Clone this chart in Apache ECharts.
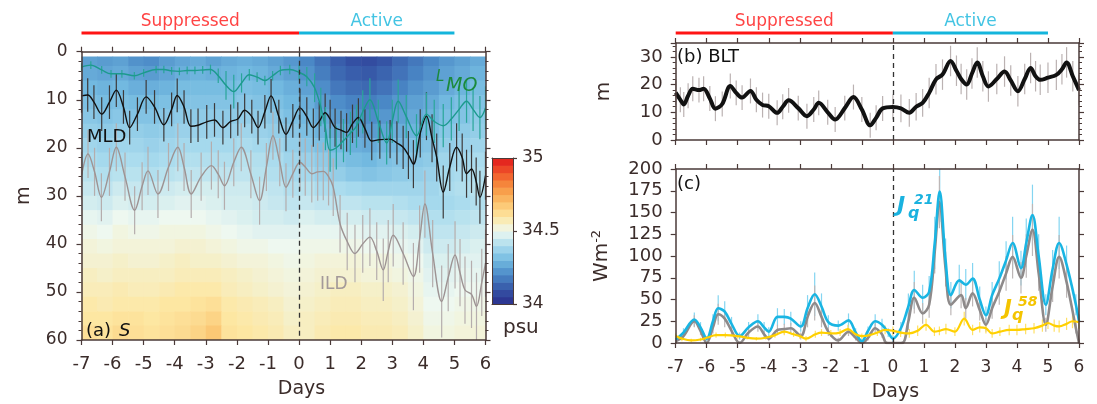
<!DOCTYPE html>
<html><head><meta charset="utf-8">
<script src="https://cdn.jsdelivr.net/npm/echarts@6/dist/echarts.min.js"></script>
<style>html,body{margin:0;padding:0;background:#fff}#c{width:1097px;height:404px}</style>
</head><body><div id="c"></div>
<script>
// ---------------- DATA ----------------
const periodNames = ['Suppressed', 'Active'];
const periodStart = [-7, 0];
const periodEnd = [0, 5];

const timeEdges = [-7,-6.5,-6,-5.5,-5,-4.5,-4,-3.5,-3,-2.5,-2,-1.5,-1,-0.5,0,0.5,1,1.5,2,2.5,3,3.5,4,4.5,5,5.5,6];
const depthEdges = [1,3,6,9,12,15,18,21,24,27,30,33,36,39,42,45,48,51,54,57,60];
// salinity (psu), rows = depth bands (top->bottom), columns = half-day bins
const salinity = [
 [34.25,34.24,34.25,34.22,34.21,34.24,34.26,34.27,34.25,34.27,34.28,34.27,34.25,34.23, 34.20,34.16,34.12,34.09,34.08,34.10,34.14,34.17,34.20,34.23,34.25,34.27],
 [34.27,34.26,34.27,34.25,34.24,34.26,34.28,34.29,34.28,34.29,34.30,34.29,34.27,34.25, 34.22,34.18,34.14,34.12,34.11,34.13,34.16,34.19,34.22,34.25,34.27,34.29],
 [34.30,34.29,34.30,34.28,34.28,34.29,34.31,34.31,34.31,34.31,34.32,34.31,34.30,34.28, 34.25,34.21,34.17,34.15,34.14,34.16,34.19,34.22,34.24,34.27,34.29,34.31],
 [34.32,34.31,34.32,34.31,34.31,34.32,34.33,34.33,34.33,34.33,34.34,34.33,34.32,34.30, 34.28,34.24,34.21,34.19,34.18,34.20,34.23,34.25,34.27,34.30,34.32,34.33],
 [34.34,34.33,34.34,34.33,34.33,34.34,34.35,34.35,34.35,34.35,34.36,34.35,34.34,34.32, 34.30,34.27,34.24,34.22,34.21,34.23,34.25,34.27,34.29,34.32,34.33,34.35],
 [34.36,34.35,34.36,34.36,34.35,34.36,34.37,34.37,34.37,34.37,34.38,34.37,34.36,34.34, 34.32,34.29,34.27,34.25,34.24,34.26,34.28,34.29,34.31,34.34,34.35,34.36],
 [34.38,34.37,34.38,34.38,34.37,34.38,34.39,34.39,34.39,34.39,34.40,34.39,34.38,34.36, 34.34,34.32,34.30,34.28,34.27,34.29,34.30,34.32,34.33,34.36,34.37,34.38],
 [34.40,34.39,34.40,34.40,34.39,34.40,34.41,34.41,34.41,34.41,34.42,34.41,34.40,34.38, 34.37,34.35,34.33,34.31,34.30,34.32,34.33,34.34,34.35,34.38,34.39,34.40],
 [34.42,34.41,34.42,34.42,34.41,34.42,34.43,34.43,34.43,34.43,34.43,34.42,34.41,34.39, 34.39,34.37,34.36,34.34,34.33,34.34,34.35,34.36,34.37,34.39,34.40,34.41],
 [34.44,34.43,34.45,34.44,34.44,34.45,34.46,34.46,34.46,34.45,34.45,34.44,34.43,34.41, 34.42,34.40,34.40,34.39,34.38,34.38,34.38,34.38,34.38,34.40,34.41,34.42],
 [34.46,34.45,34.47,34.46,34.46,34.47,34.48,34.48,34.47,34.46,34.46,34.45,34.44,34.43, 34.44,34.43,34.43,34.43,34.42,34.42,34.41,34.40,34.39,34.39,34.40,34.41],
 [34.49,34.48,34.50,34.49,34.49,34.50,34.50,34.50,34.49,34.48,34.47,34.46,34.46,34.45, 34.47,34.46,34.46,34.46,34.45,34.45,34.44,34.43,34.41,34.41,34.42,34.43],
 [34.51,34.50,34.52,34.51,34.51,34.52,34.52,34.52,34.51,34.50,34.49,34.48,34.48,34.48, 34.49,34.49,34.49,34.49,34.48,34.48,34.47,34.46,34.43,34.43,34.44,34.45],
 [34.53,34.52,34.53,34.53,34.53,34.53,34.54,34.54,34.53,34.52,34.51,34.51,34.50,34.50, 34.51,34.51,34.51,34.51,34.50,34.50,34.49,34.48,34.45,34.45,34.46,34.47],
 [34.54,34.54,34.55,34.54,34.54,34.55,34.56,34.55,34.55,34.54,34.53,34.53,34.52,34.51, 34.52,34.53,34.53,34.53,34.52,34.52,34.51,34.50,34.47,34.47,34.48,34.48],
 [34.56,34.55,34.56,34.56,34.56,34.56,34.57,34.57,34.57,34.56,34.55,34.54,34.53,34.52, 34.53,34.54,34.54,34.54,34.53,34.53,34.52,34.51,34.48,34.48,34.49,34.49],
 [34.57,34.57,34.58,34.57,34.57,34.58,34.59,34.59,34.59,34.57,34.56,34.55,34.54,34.53, 34.54,34.55,34.56,34.56,34.55,34.55,34.54,34.52,34.49,34.49,34.50,34.50],
 [34.59,34.58,34.59,34.59,34.59,34.60,34.60,34.61,34.62,34.59,34.58,34.57,34.56,34.54, 34.55,34.56,34.57,34.57,34.56,34.56,34.55,34.53,34.50,34.50,34.51,34.51],
 [34.60,34.60,34.61,34.61,34.60,34.61,34.62,34.63,34.65,34.60,34.59,34.58,34.57,34.55, 34.56,34.57,34.58,34.58,34.57,34.57,34.56,34.54,34.51,34.51,34.52,34.52],
 [34.62,34.61,34.63,34.62,34.61,34.62,34.63,34.65,34.68,34.61,34.60,34.59,34.58,34.56, 34.56,34.58,34.59,34.59,34.58,34.58,34.57,34.55,34.52,34.52,34.53,34.53]
];
const colorbarLevels = [34,34.05,34.1,34.15,34.2,34.25,34.3,34.35,34.4,34.45,34.5,34.55,34.6,34.65,34.7,34.75,34.8,34.85,34.9,34.95,35];

// [day, value, error half-width]
const LMO = [[-7,3.2,0.8],[-6.7,2.8,0.8],[-6.35,3.8,0.8],[-6.05,4.6,0.8],[-5.7,4.6,0.8],[-5.3,5.0,0.8],[-5.0,4.4,0.8],[-4.6,3.7,0.8],[-4.35,3.7,0.8],[-4.1,4.0,0.8],[-3.85,4.1,0.8],[-3.6,3.9,0.8],[-3.35,3.9,0.8],[-3.1,3.8,0.8],[-2.85,3.7,1.0],[-2.6,5.0,1.5],[-2.35,7.0,3.0],[-2.1,8.3,3.5],[-1.85,6.5,2.0],[-1.6,4.8,1.2],[-1.35,5.3,1.0],[-1.1,6.0,1.0],[-0.85,5.0,1.0],[-0.6,3.9,1.0],[-0.3,3.7,1.0],[0,4.3,1.5],
 [0.25,5.2,2.0],[0.5,7.5,3],[0.7,11.5,4],[0.85,16,4.5],[1.0,20.5,4.5],[1.2,20,4.5],[1.43,18.5,4.5],[1.65,17,4.5],[1.85,15.5,4.5],[2.05,12.5,4.5],[2.28,10,4.5],[2.55,14.5,4.5],[2.82,19,4.5],[3.0,14.5,4.5],[3.19,10.3,4.5],[3.45,13.5,4.5],[3.78,17.5,4.5],[4.1,13,4.5],[4.35,14.5,4.5],[4.64,15.4,4.5],[4.9,14,4.5],[5.15,12,4.5],[5.39,10.3,4.5],[5.6,12,4.5],[5.82,13.7,4.5],[6.0,11.7,4.5]];
const MLD = [[-7,9.2,3.5],[-6.8,9.0,3.5],[-6.6,10.5,3.5],[-6.35,13.0,3.5],[-6.1,10.5,3.5],[-5.88,8.0,3.5],[-5.65,11.5,3.5],[-5.45,15.8,3.5],[-5.2,13,3.5],[-4.92,9.4,3.5],[-4.65,11.5,3.5],[-4.35,15.2,3.5],[-4.1,12,3.5],[-3.92,9.1,3.5],[-3.7,11.5,3.5],[-3.48,15.5,3.5],[-3.25,15.3,3.5],[-2.97,14.6,3.5],[-2.72,14.2,3.5],[-2.45,15.8,3.5],[-2.2,14.5,3.5],[-1.97,14,3.5],[-1.75,12.2,3.5],[-1.52,13.5,3.5],[-1.32,15.8,3.5],[-1.1,12.5,3.5],[-0.9,9.2,3.5],[-0.65,13.5,3.5],[-0.42,17.2,3.5],[-0.2,14.4,3.5],[0.03,11.7,4],
 [0.25,13.5,4],[0.46,15.8,4],[0.65,14.5,4],[0.84,12.7,4],[1.0,14,4],[1.16,15.8,4],[1.35,16.3,4],[1.53,16.8,4],[1.72,15,4],[1.91,13.7,4],[2.12,16,4],[2.34,18.6,4],[2.6,18.3,4],[2.93,18.2,4],[3.15,19,4.5],[3.35,19.9,4.5],[3.52,21.5,5],[3.68,23.4,5],[3.9,17,5],[4.1,13.4,5],[4.28,18,5],[4.43,22,5],[4.64,29.2,5.5],[4.85,24,5],[5.07,19.9,5],[5.25,22,5],[5.39,25.4,5],[5.55,24.4,5],[5.7,27,5],[5.82,30.3,5.5],[6.0,25.8,5]];
const ILD = [[-7,25.8,5],[-6.79,21.3,5],[-6.58,25,5],[-6.36,30.3,5],[-6.1,25,5],[-5.88,19.9,5],[-5.6,26,5],[-5.29,33,5],[-5.05,28,5],[-4.86,24.8,5],[-4.54,29.6,5],[-4.2,24,5],[-3.9,19.9,5],[-3.7,24,5],[-3.47,29.6,5],[-3.15,26,5],[-2.82,23.7,5],[-2.6,25.5,5],[-2.4,27.9,5],[-2.1,23,5],[-1.86,19.9,5],[-1.55,25.5,5],[-1.27,31,5],[-1.05,24,5],[-0.84,17.5,5],[-0.62,23,5],[-0.42,28.2,5],[-0.2,25.4,5],[0.03,23,6],
 [0.2,24,6],[0.41,25.4,6],[0.6,25,6],[0.78,24.9,6],[0.95,26,6],[1.1,28.2,6],[1.32,35.8,6],[1.55,39.5,6],[1.8,42,6],[2.05,40,6],[2.28,38.6,6],[2.5,41.5,6],[2.71,45.4,6.5],[2.87,41.5,6.5],[3.03,38.2,6.5],[3.35,42,6.5],[3.68,46.8,7],[3.88,39,7],[4.05,31.7,7],[4.3,42,7],[4.59,52,7.5],[4.8,47,7],[5.02,42.3,7],[5.18,46,7],[5.34,49.6,7],[5.55,50.5,7],[5.71,53,7],[5.88,48,7],[6.0,44,7]];
const BLT = [[-7,17.1,4.5],[-6.85,14.5,4.5],[-6.74,12.8,4.5],[-6.6,16,4.5],[-6.45,18.5,4.5],[-6.25,18,4.5],[-6.1,18.5,4.5],[-5.9,15,4.5],[-5.72,11.3,4.5],[-5.5,13,4.5],[-5.24,19.5,4.5],[-5.05,17,4.5],[-4.86,15.3,4.5],[-4.59,17.7,4.5],[-4.4,14.5,4.5],[-4.2,12.6,4.5],[-4.0,12.2,4.5],[-3.73,9.8,4.5],[-3.55,12,4.5],[-3.36,14.3,4.5],[-3.05,11.5,4.5],[-2.77,8.6,4.5],[-2.55,11,4.5],[-2.39,13.4,4.5],[-2.1,10,4.5],[-1.86,7.4,4.5],[-1.55,11.5,4.5],[-1.27,15.5,4.5],[-1.0,11,4.5],[-0.73,5.3,4.5],[-0.54,8,4.5],[-0.33,11.4,4.5],[0,11.9,4.5],
 [0.26,11.4,5],[0.53,9.8,5],[0.75,12,5],[0.96,13.4,5],[1.17,17,5.5],[1.39,21.9,5.5],[1.6,23.6,5.5],[1.86,28.5,5.5],[2.05,25,5.5],[2.2,22,5.5],[2.38,20,5.5],[2.55,24,5.5],[2.72,28,5.5],[2.9,23,5.5],[3.08,19.3,5.5],[3.35,22,5.5],[3.6,24.7,5.5],[3.8,21.5,5.5],[4.03,17.6,5.5],[4.25,22,5.5],[4.44,26,5.5],[4.6,23,5.5],[4.75,21.7,5.5],[5.0,22.5,5.5],[5.27,23.5,5.5],[5.45,25.5,5.5],[5.6,28,5.5],[5.8,23,5.5],[6.0,18,5.5]];
const JQ21 = [[-7,4,3],[-6.75,12,5],[-6.4,27,8],[-6.2,18,6],[-6.0,5,3],[-5.8,25,8],[-5.63,40,15],[-5.42,36,12],[-5.2,22,8],[-4.94,8,4],[-4.65,18,6],[-4.35,25,8],[-4.15,18,6],[-4.0,13,5],[-3.72,30,10],[-3.5,30,9],[-3.29,28,8],[-2.97,19,6],[-2.75,40,15],[-2.52,56,25],[-2.3,42,15],[-2.08,24,8],[-1.76,20,6],[-1.43,26,8],[-1.2,12,5],[-1.0,2,3],[-0.8,14,5],[-0.57,25,8],[-0.35,21,7],[-0.15,12,5],[0,5,4],
 [0.26,17,7],[0.5,42,15],[0.69,61,22],[0.96,52,15],[1.17,59,18],[1.35,115,30],[1.51,174,35],[1.7,95,25],[1.87,55,15],[2.14,72,18],[2.35,67,18],[2.57,74,18],[2.8,50,15],[3.0,32,10],[3.2,55,15],[3.43,74,20],[3.65,95,22],[3.86,115,30],[4.13,86,20],[4.3,115,28],[4.5,147,35],[4.7,100,25],[4.93,44,12],[5.15,85,22],[5.36,115,30],[5.6,90,22],[5.9,44,12],[6.0,25,8]];
const JQ_GRAY = [[-7,2,2],[-6.75,8,4],[-6.4,25,7],[-6.2,14,5],[-6.0,0,2],[-5.8,18,7],[-5.63,33,12],[-5.42,28,10],[-5.2,14,6],[-4.94,0,2],[-4.65,12,5],[-4.35,19,6],[-4.15,10,4],[-4.0,5,3],[-3.72,15,6],[-3.5,16,6],[-3.29,17,6],[-2.97,8,4],[-2.75,30,12],[-2.52,46,20],[-2.3,30,12],[-2.08,13,5],[-1.76,3,3],[-1.43,13,5],[-1.2,6,3],[-1.0,0,2],[-0.8,6,3],[-0.57,17,6],[-0.35,10,4],[-0.2,0,2],[0,0,2],
 [0.3,0,2],[0.5,25,10],[0.69,52,18],[0.96,34,12],[1.17,44,15],[1.35,105,25],[1.5,162,30],[1.7,85,20],[1.87,44,12],[2.2,55,15],[2.35,40,12],[2.57,57,15],[2.8,38,12],[3.0,21,8],[3.2,40,12],[3.43,59,15],[3.65,80,20],[3.86,99,25],[4.13,75,18],[4.3,100,25],[4.5,130,30],[4.7,80,20],[4.93,21,8],[5.15,65,18],[5.36,99,25],[5.6,70,18],[5.9,17,6],[6.0,0,3]];
const JQ58 = [[-7,8,3],[-6.8,5,3],[-6.5,3,2],[-6.2,4,2],[-6.0,6,2],[-5.7,9,3],[-5.4,9,3],[-5.0,8,3],[-4.7,6,2],[-4.4,5,2],[-4.1,6,2],[-3.8,9,3],[-3.5,13,4],[-3.2,10,3],[-3.0,8,3],[-2.8,5,3],[-2.5,10,4],[-2.3,12,4],[-2.0,11,4],[-1.7,12,4],[-1.45,16,5],[-1.2,10,4],[-1.0,8,3],[-0.75,9,3],[-0.5,12,4],[-0.25,15,5],[0,14,5],
 [0.25,12,5],[0.53,11,5],[0.8,14,6],[1.07,21,7],[1.34,13,5],[1.5,14,5],[1.71,16,6],[2.0,13,5],[2.3,28,8],[2.57,15,6],[2.8,18,6],[3.0,17,6],[3.2,11,5],[3.45,13,5],[3.75,15,6],[4.0,15,6],[4.28,16,6],[4.55,17,6],[4.82,20,7],[5.0,23,7],[5.2,20,7],[5.36,19,7],[5.6,22,7],[5.79,25,8],[6.0,24,8]];

// ---------------- CHART ----------------
const FONT = 'DejaVu Sans';
const AX = '#4a3a38';
const TXT = '#3b2c2a';

const heatData = [];
for (let r = 0; r < salinity.length; r++)
  for (let c = 0; c < salinity[r].length; c++)
    heatData.push([timeEdges[c], timeEdges[c + 1], depthEdges[r], depthEdges[r + 1], salinity[r][c]]);
const cbData = [];
for (let i = 0; i < colorbarLevels.length - 1; i++)
  cbData.push([0, 1, colorbarLevels[i], colorbarLevels[i + 1], (colorbarLevels[i] + colorbarLevels[i + 1]) / 2]);

function rectItem(params, api) {
  const a = api.coord([api.value(0), api.value(2)]);
  const b = api.coord([api.value(1), api.value(3)]);
  return {type: 'rect', shape: {x: Math.min(a[0], b[0]), y: Math.min(a[1], b[1]),
    width: Math.abs(b[0] - a[0]) + 0.6, height: Math.abs(b[1] - a[1]) + 0.6},
    style: {fill: api.visual('color')}};
}
function barItemFactory(w) {
  return function (params, api) {
    const a = api.coord([api.value(0), api.value(1)]);
    const b = api.coord([api.value(0), api.value(2)]);
    return {type: 'line', shape: {x1: a[0], y1: a[1], x2: b[0], y2: b[1]},
      style: {stroke: api.visual('color'), lineWidth: w}};
  };
}
function errSeries(data, xi, yi, color, w, lo, hi, z) {
  return {type: 'custom', xAxisIndex: xi, yAxisIndex: yi, renderItem: barItemFactory(w),
    data: data.map(p => [p[0], Math.max(lo, p[1] - p[2]), Math.min(hi, p[1] + p[2])]),
    encode: {x: 0, y: [1, 2]}, itemStyle: {color}, silent: true, z: z || 2, animation: false};
}
function lineSeries(data, xi, yi, color, w, z, extra) {
  return Object.assign({type: 'line', xAxisIndex: xi, yAxisIndex: yi, data: data.map(p => [p[0], p[1]]),
    smooth: 0.35, showSymbol: false, symbol: 'none', lineStyle: {color, width: w}, itemStyle: {color},
    clip: true, silent: true, z: z || 3, animation: false}, extra || {});
}
const dashMark = {silent: true, symbol: ['none', 'none'], label: {show: false},
  lineStyle: {type: [5, 4], color: '#333', width: 1.3}, data: [{xAxis: 0}], animation: false};

const axLine = {show: true, onZero: false, lineStyle: {color: AX, width: 1.5}};
const thinLine = {show: true, onZero: false, lineStyle: {color: AX, width: 1}};
const tick = (len) => ({show: true, inside: false, length: len, lineStyle: {color: AX, width: 1.2}});
const minor = {show: true, splitNumber: 5, length: 3, lineStyle: {color: AX, width: 1}};
const noSplit = {show: false};
const lbl = (size, margin) => ({show: true, fontSize: size, fontFamily: FONT, color: TXT, margin: margin});

function xAx(grid, pos, opts) {
  return Object.assign({gridIndex: grid, type: 'value', min: -7, max: 6, interval: 1, position: pos,
    axisLine: axLine, axisTick: tick(5), axisLabel: {show: false}, splitLine: noSplit, z: 10}, opts || {});
}
const hiddenAx = (grid, min, max) => ({gridIndex: grid, type: 'value', min, max, show: false});

const xAxes = [
  xAx(0, 'bottom', {axisLabel: lbl(18, 15), name: 'Days', nameLocation: 'middle', nameGap: 40,
    nameTextStyle: {fontSize: 19, fontFamily: FONT, color: TXT, padding: [0, 0, 0, 36]}}),
  xAx(0, 'top'),
  {gridIndex: 1, type: 'value', min: 0, max: 1, position: 'bottom', axisLine: thinLine, axisTick: {show: false}, axisLabel: {show: false}, splitLine: noSplit, z: 10},
  {gridIndex: 1, type: 'value', min: 0, max: 1, position: 'top', axisLine: thinLine, axisTick: {show: false}, axisLabel: {show: false}, splitLine: noSplit, z: 10},
  xAx(2, 'bottom'),
  xAx(2, 'top'),
  xAx(3, 'bottom', {axisLabel: lbl(17, 16), name: 'Days', nameLocation: 'middle', nameGap: 40,
    nameTextStyle: {fontSize: 19, fontFamily: FONT, color: TXT, padding: [0, 0, 0, 36]}}),
  xAx(3, 'top'),
  hiddenAx(4, -7, 6),
  hiddenAx(5, -7, 6)
];

const yAxes = [
  {gridIndex: 0, type: 'value', inverse: true, min: 0, max: 60, interval: 10, position: 'left',
    axisLine: axLine, axisTick: tick(5), minorTick: minor, axisLabel: lbl(17, 14), splitLine: noSplit, minorSplitLine: noSplit,
    name: 'm', nameLocation: 'middle', nameGap: 48, nameTextStyle: {fontSize: 19, fontFamily: FONT, color: TXT}, z: 10},
  {gridIndex: 0, type: 'value', inverse: true, min: 0, max: 60, interval: 10, position: 'right',
    axisLine: axLine, axisTick: tick(5), minorTick: minor, axisLabel: {show: false}, splitLine: noSplit, z: 10},
  {gridIndex: 1, type: 'value', min: 34, max: 35, interval: 0.5, position: 'left',
    axisLine: thinLine, axisTick: {show: false}, axisLabel: {show: false}, splitLine: noSplit, z: 10},
  {gridIndex: 1, type: 'value', min: 34, max: 35, interval: 0.5, position: 'right',
    axisLine: thinLine, axisTick: tick(4), axisLabel: lbl(17, 9), splitLine: noSplit, z: 10},
  {gridIndex: 2, type: 'value', min: 0, max: 35, interval: 10, position: 'left',
    axisLine: axLine, axisTick: tick(5), minorTick: minor, axisLabel: Object.assign(lbl(18, 13), {showMaxLabel: false}), splitLine: noSplit,
    name: 'm', nameLocation: 'middle', nameGap: 62, nameTextStyle: {fontSize: 20, fontFamily: FONT, color: TXT}, z: 10},
  {gridIndex: 2, type: 'value', min: 0, max: 35, interval: 10, position: 'right',
    axisLine: axLine, axisTick: tick(5), minorTick: minor, axisLabel: {show: false}, splitLine: noSplit, z: 10},
  {gridIndex: 3, type: 'value', min: 0, max: 200, interval: 25, position: 'left',
    axisLine: axLine, axisTick: tick(5), axisLabel: lbl(18, 13), splitLine: noSplit,
    name: 'Wm{s|-2}', nameLocation: 'middle', nameGap: 62,
    nameTextStyle: {fontSize: 20, fontFamily: FONT, color: TXT, lineHeight: 24, rich: {s: {fontSize: 13, fontFamily: FONT, color: TXT, verticalAlign: 'top', lineHeight: 14}}}, z: 10},
  {gridIndex: 3, type: 'value', min: 0, max: 200, interval: 25, position: 'right',
    axisLine: axLine, axisTick: tick(5), axisLabel: {show: false}, splitLine: noSplit, z: 10},
  hiddenAx(4, 0, 1),
  hiddenAx(5, 0, 1)
];

const periodColors = ['#ff1414', '#14b5dc'];
const series = [
  {type: 'custom', xAxisIndex: 0, yAxisIndex: 0, renderItem: rectItem, data: heatData,
    encode: {x: [0, 1], y: [2, 3]}, silent: true, z: 1, clip: true, animation: false},
  {type: 'custom', xAxisIndex: 2, yAxisIndex: 2, renderItem: rectItem, data: cbData,
    encode: {x: [0, 1], y: [2, 3]}, silent: true, z: 1, clip: true, animation: false},
  // left panel
  errSeries(ILD, 0, 0, '#b5adad', 1.2, 0, 60),
  lineSeries(ILD, 0, 0, '#9d9393', 1.4),
  errSeries(MLD, 0, 0, '#3d3a3a', 1.2, 0, 60),
  lineSeries(MLD, 0, 0, '#111111', 1.4),
  errSeries(LMO, 0, 0, '#2aa699', 1.2, 0, 60),
  lineSeries(LMO, 0, 0, '#1c9a8e', 1.4, 4, {markLine: dashMark}),
  // (b)
  errSeries(BLT, 4, 4, '#bbb2b2', 1.2, 0, 35),
  lineSeries(BLT, 4, 4, '#111111', 4, 4, {markLine: dashMark}),
  // (c)
  errSeries(JQ21, 6, 6, '#84d5f1', 1.2, 0, 200),
  errSeries(JQ_GRAY, 6, 6, '#bdb7b7', 1.2, 0, 200),
  errSeries(JQ58, 6, 6, '#ffe066', 1.2, 0, 200),
  lineSeries(JQ_GRAY, 6, 6, '#8e8a8a', 2.6, 3),
  lineSeries(JQ21, 6, 6, '#19b5e3', 2.6, 4, {markLine: dashMark}),
  lineSeries(JQ58, 6, 6, '#ffd000', 2.2, 5)
];
// period bars and labels on both panels
[[8, 8], [9, 9]].forEach(([xi, yi]) => {
  periodNames.forEach((n, i) => {
    series.push({type: 'line', xAxisIndex: xi, yAxisIndex: yi, data: [[periodStart[i], 0.5], [periodEnd[i], 0.5]],
      showSymbol: false, symbol: 'none', lineStyle: {color: periodColors[i], width: 3.2}, silent: true, animation: false});
  });
  series.push({type: 'scatter', xAxisIndex: xi, yAxisIndex: yi, symbolSize: 0, silent: true, animation: false,
    data: periodNames.map((n, i) => ({name: n, value: [(periodStart[i] + periodEnd[i]) / 2, 0.5],
      label: {color: periodColors[i]}})),
    label: {show: true, position: 'top', distance: 3, formatter: '{b}', fontSize: 17, fontFamily: FONT}});
});

function txt(x, y, text, font, fill) {
  return {type: 'text', x, y, z: 100, silent: true,
    style: {text, font, fill, align: 'left', verticalAlign: 'middle', textAlign: 'left', textVerticalAlign: 'middle'}};
}
const F = (s, extra) => (extra ? extra + ' ' : '') + s + 'px "DejaVu Sans"';
const graphic = [
  txt(86, 331, '(a)', F(18), '#111'),
  txt(119, 331, 'S', F(18, 'italic'), '#111'),
  txt(87, 137, 'MLD', F(18), '#111'),
  txt(320, 285, 'ILD', F(17), '#a39999'),
  txt(436, 77, 'L', F(15, 'italic'), '#1b8a3b'),
  txt(446, 86, 'MO', F(19, 'italic'), '#1b8a3b'),
  txt(503, 328, 'psu', F(20), TXT),
  txt(677, 57, '(b) BLT', F(18), '#111'),
  txt(677, 184, '(c)', F(18), '#111'),
  txt(897, 206, 'J', F(22, 'italic bold'), '#1ab2df'),
  txt(914, 200, '21', F(14, 'italic bold'), '#1ab2df'),
  txt(908, 214, 'q', F(16, 'italic bold'), '#1ab2df'),
  txt(1004, 310, 'J', F(21, 'italic bold'), '#f4c400'),
  txt(1018, 302, '58', F(14, 'italic bold'), '#f4c400'),
  txt(1012, 316, 'q', F(16, 'italic bold'), '#f4c400')
];

const chart = echarts.init(document.getElementById('c'), null, {renderer: 'canvas'});
chart.setOption({
  animation: false,
  backgroundColor: '#ffffff',
  textStyle: {fontFamily: FONT},
  grid: [
    {left: 81.5, top: 51.7, width: 404, height: 290.3},
    {left: 492, top: 158, width: 21, height: 146},
    {left: 675.7, top: 43, width: 403.3, height: 97},
    {left: 675.7, top: 169, width: 403.3, height: 174},
    {left: 81.5, top: 28, width: 404, height: 10},
    {left: 675.7, top: 28, width: 403.3, height: 10}
  ],
  visualMap: {show: false, type: 'continuous', min: 34, max: 35, dimension: 4, seriesIndex: [0, 1],
    inRange: {color: ['#2b2d8c', '#3554a5', '#4a88c6', '#72b9e0', '#abdcee', '#eef8f0', '#fde7a2', '#fbc06a', '#f79441', '#f0572a', '#e0181c']}},
  xAxis: xAxes,
  yAxis: yAxes,
  series,
  graphic
});
</script></body></html>
